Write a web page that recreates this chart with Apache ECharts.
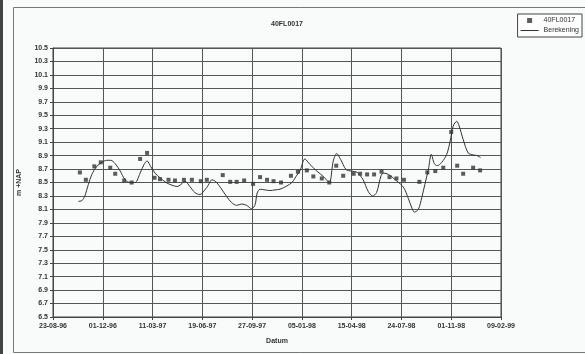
<!DOCTYPE html>
<html>
<head>
<meta charset="utf-8">
<script src="https://cdn.jsdelivr.net/npm/echarts@6/dist/echarts.min.js"></script>
<style>
html,body{margin:0;padding:0;background:#f9fafa;}
#c{width:585px;height:354px;}
</style>
</head>
<body>
<div id="c"></div>
<script>
// x values are days since 23-08-1996
const startDate = '1996-08-23';
const xTickLabels = ['23-08-96','01-12-96','11-03-97','19-06-97','27-09-97','05-01-98','15-04-98','24-07-98','01-11-98','09-02-99'];
const yBase = 6.5;

// Measured series 40FL0017
const obsDays = [54,66,83,96,115,125,143,158,175,189,204,215,232,245,263,279,297,309,341,356,369,384,402,416,430,443,458,478,492,510,523,540,555,569,583,604,617,631,645,660,676,690,705,736,752,768,784,800,812,824,844,858];
const obsValues = [8.65,8.54,8.74,8.80,8.72,8.63,8.53,8.50,8.85,8.94,8.57,8.55,8.54,8.53,8.54,8.54,8.52,8.54,8.61,8.51,8.51,8.53,8.48,8.58,8.54,8.52,8.50,8.60,8.66,8.68,8.59,8.56,8.50,8.75,8.60,8.63,8.63,8.62,8.62,8.66,8.58,8.56,8.54,8.51,8.65,8.67,8.72,9.25,8.75,8.63,8.72,8.68];

// Calculated series Berekening
const calcDays = [51,58,64,71,78,88,98,108,116,125,135,145,155,165,175,183,189,196,205,215,227,239,249,257,265,275,285,295,305,312,319,326,336,349,359,369,379,389,399,406,410,416,426,436,446,456,470,480,490,496,506,516,530,543,555,563,570,578,589,600,611,623,633,642,650,659,664,674,691,704,714,721,726,734,741,747,754,760,766,772,781,791,798,804,811,816,824,834,844,852,859];
const calcValues = [8.22,8.23,8.30,8.47,8.62,8.74,8.80,8.83,8.83,8.78,8.67,8.54,8.50,8.50,8.64,8.77,8.82,8.74,8.64,8.57,8.50,8.46,8.44,8.47,8.52,8.44,8.35,8.32,8.39,8.46,8.54,8.52,8.43,8.29,8.20,8.16,8.18,8.16,8.11,8.17,8.34,8.40,8.39,8.38,8.39,8.40,8.45,8.50,8.61,8.67,8.85,8.77,8.67,8.59,8.50,8.82,8.93,8.84,8.69,8.67,8.65,8.54,8.37,8.30,8.35,8.60,8.64,8.62,8.52,8.43,8.26,8.12,8.06,8.10,8.28,8.47,8.69,8.92,8.78,8.75,8.80,8.92,9.12,9.34,9.41,9.34,9.14,8.94,8.91,8.90,8.87];

const chart = echarts.init(document.getElementById('c'), null, {renderer: 'canvas'});
const font = 'Liberation Sans, Arial, sans-serif';
const txt = '#333';
const obsData = obsDays.map((d, i) => [d, obsValues[i] - yBase]);
const calcData = calcDays.map((d, i) => [d, calcValues[i] - yBase]);

chart.setOption({
  backgroundColor: '#f9fafa',
  animation: false,
  title: {
    text: '40FL0017', left: 282, top: 16, textAlign: 'center',
    textStyle: {fontFamily: font, fontSize: 7, fontWeight: 'bold', color: txt}
  },
  graphic: [
    {type: 'rect', left: 11, top: 5, shape: {width: 580, height: 345}, style: {fill: 'none', stroke: '#777', lineWidth: 1}, silent: true},
    {type: 'rect', left: 0, top: 0, shape: {width: 3, height: 354}, style: {fill: '#444'}, silent: true}
  ],
  legend: {
    right: 3, top: 14, orient: 'vertical', align: 'left',
    itemWidth: 18, itemHeight: 5, itemGap: 3, padding: [3, 3, 3, 3],
    borderColor: '#444', borderWidth: 1, backgroundColor: '#fdfdfd',
    textStyle: {fontFamily: font, fontSize: 7, color: txt},
    data: [
      {name: '40FL0017', icon: 'path://M0,0h4v4h-4z'},
      {name: 'Berekening', icon: 'path://M0,0h18v1h-18z'}
    ]
  },
  grid: {left: 53, right: 84, top: 48, bottom: 37, show: true, borderColor: '#444', borderWidth: 1, backgroundColor: 'transparent'},
  xAxis: {
    type: 'value', min: 0, max: 900, interval: 100,
    name: 'Datum', nameLocation: 'middle', nameGap: 21,
    nameTextStyle: {fontFamily: font, fontSize: 7, fontWeight: 'bold', color: txt},
    axisLine: {show: true, lineStyle: {color: '#444'}},
    axisTick: {show: true, length: 3, lineStyle: {color: '#444'}},
    axisLabel: {fontFamily: font, fontSize: 7, fontWeight: 'bold', color: txt, margin: 6,
      formatter: v => xTickLabels[Math.round(v / 100)] || ''},
    splitLine: {show: true, lineStyle: {color: '#555', width: 1}}
  },
  yAxis: {
    type: 'value', min: 0, max: 4, interval: 0.2,
    name: 'm +NAP', nameLocation: 'middle', nameGap: 30, nameRotate: 90,
    nameTextStyle: {fontFamily: font, fontSize: 7, fontWeight: 'bold', color: txt},
    axisLine: {show: true, lineStyle: {color: '#444'}},
    axisTick: {show: true, length: 3, lineStyle: {color: '#444'}},
    axisLabel: {fontFamily: font, fontSize: 7, fontWeight: 'bold', color: txt, margin: 5,
      formatter: v => (v + yBase).toFixed(1)},
    splitLine: {show: true, lineStyle: {color: '#555', width: 1}}
  },
  series: [
    {
      name: '40FL0017', type: 'scatter', data: obsData,
      symbol: 'rect', symbolSize: 4,
      itemStyle: {color: '#333'}, z: 3
    },
    {
      name: 'Berekening', type: 'line', data: calcData,
      symbol: 'none', smooth: 0.3,
      lineStyle: {color: '#333', width: 1}, itemStyle: {color: '#333'}, z: 2
    }
  ]
});
</script>
</body>
</html>
